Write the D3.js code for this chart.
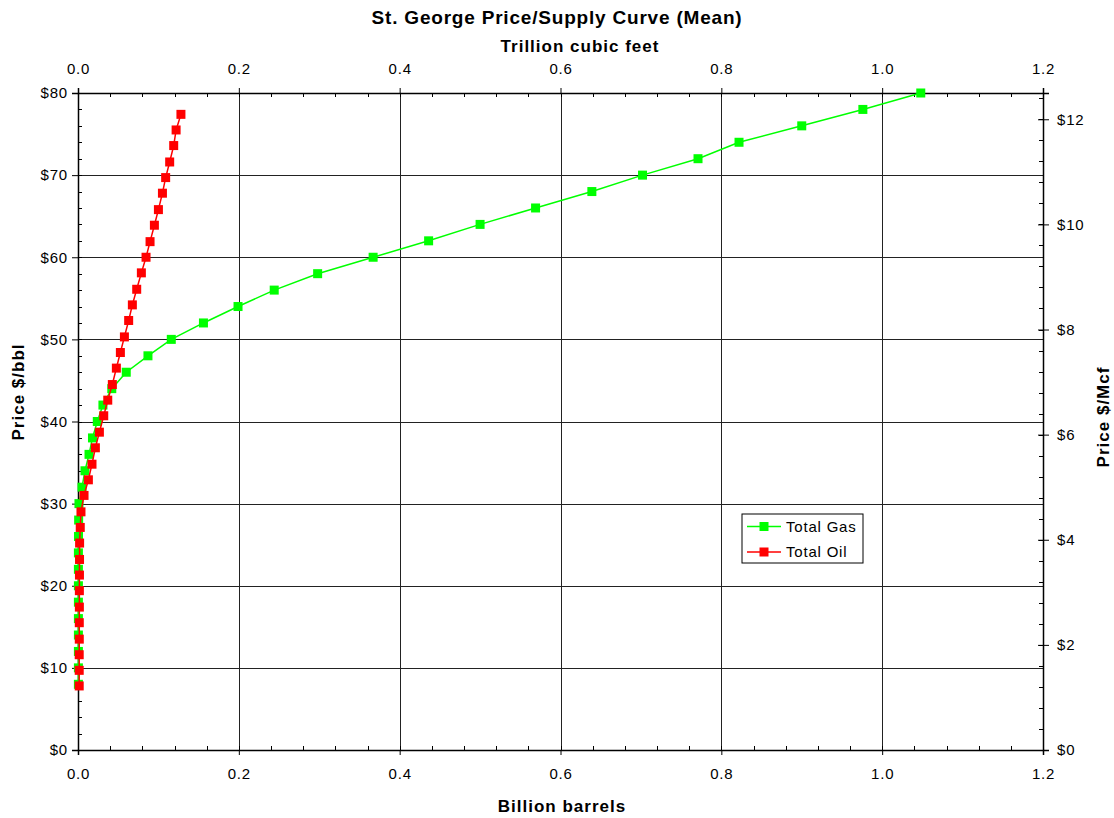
<!DOCTYPE html>
<html>
<head>
<meta charset="utf-8">
<script src="https://cdn.jsdelivr.net/npm/d3@7"></script>
<style>
body { margin: 0; background: #fff; }
svg { font-family: "Liberation Sans", Arial, sans-serif; }
</style>
</head>
<body>
<svg id="chart" width="1114" height="818"></svg>
<script>
// Gas series: price ($/bbl equivalent, left axis) vs Trillion cubic feet (top axis)
const gasPrice = [8,10,12,14,16,18,20,22,24,26,28,30,32,34,36,38,40,42,44,46,48,50,52,54,56,58,60,62,64,66,68,70,72,74,76,78,80];
const gasTcf = [0.0005,0.0005,0.0005,0.0005,0.0005,0.0005,0.0005,0.0005,0.0005,0.0006,0.0008,0.0012,0.005,0.0087,0.0137,0.018,0.024,0.031,0.042,0.060,0.087,0.116,0.156,0.199,0.244,0.298,0.367,0.436,0.500,0.569,0.639,0.702,0.771,0.822,0.900,0.976,1.048];
// Oil series: price ($/bbl, left axis) vs Billion barrels (bottom axis)
const oilPrice = [7.8,9.7,11.6,13.5,15.5,17.4,19.4,21.3,23.2,25.2,27.1,29.0,31.0,32.9,34.8,36.8,38.7,40.7,42.6,44.5,46.5,48.4,50.3,52.3,54.2,56.1,58.1,60.0,61.9,63.9,65.8,67.8,69.7,71.6,73.6,75.5,77.4];
const oilBbl = [0.0015,0.0015,0.0015,0.0016,0.0016,0.0017,0.0017,0.0018,0.0019,0.0020,0.0028,0.0037,0.0075,0.0129,0.0174,0.0216,0.0266,0.032,0.037,0.0427,0.0477,0.0527,0.0577,0.063,0.0676,0.073,0.0788,0.0846,0.0896,0.095,0.100,0.105,0.109,0.114,0.119,0.122,0.128];

const xTicks = [0,0.2,0.4,0.6,0.8,1.0,1.2];
const yLeftTicks = [0,10,20,30,40,50,60,70,80];
const yRightTicks = [0,2,4,6,8,10,12];
const titleText = "St. George Price/Supply Curve (Mean)";
const topTitle = "Trillion cubic feet";
const bottomTitle = "Billion barrels";
const leftTitle = "Price $/bbl";
const rightTitle = "Price $/Mcf";
const seriesNames = ["Total Gas", "Total Oil"];

const L = 78, R = 1043, T = 93, B = 750;
const svg = d3.select("#chart");

const x = d3.scaleLinear().domain([0, 1.2]).range([L, R]);
const yL = d3.scaleLinear().domain([0, 80]).range([B, T]);
const yR = d3.scaleLinear().domain([0, 12.5]).range([B, T]);

// Gridlines
const grid = svg.append("g").attr("stroke", "#222").attr("stroke-width", 1);
xTicks.slice(1, -1).forEach(v => {
  grid.append("line").attr("x1", Math.round(x(v)) + 0.5).attr("x2", Math.round(x(v)) + 0.5).attr("y1", T).attr("y2", B);
});
yLeftTicks.slice(1, -1).forEach(v => {
  grid.append("line").attr("y1", Math.round(yL(v)) + 0.5).attr("y2", Math.round(yL(v)) + 0.5).attr("x1", L).attr("x2", R);
});

// Minor ticks helper
function minorTicks(axis, scale, step, max, pos, inward) {
  const g = svg.append("g").attr("stroke", "#000").attr("stroke-width", 1);
  for (let v = 0; v <= max + 1e-9; v += step) {
    const p = Math.round(scale(v)) + 0.5;
    if (axis === "x") g.append("line").attr("x1", p).attr("x2", p).attr("y1", pos).attr("y2", pos + inward);
    else g.append("line").attr("y1", p).attr("y2", p).attr("x1", pos).attr("x2", pos + inward);
  }
}
minorTicks("x", x, 0.04, 1.2, B, -4);
minorTicks("x", x, 0.04, 1.2, T, 4);
minorTicks("y", yL, 2, 80, L, 4);
minorTicks("y", yR, 0.4, 12.5, R, -4);

// Axes
const fmtX = d3.format(".1f");
const axTop = svg.append("g").attr("transform", `translate(0,${T})`)
  .call(d3.axisTop(x).tickValues(xTicks).tickFormat(fmtX).tickSize(5).tickPadding(14));
const axBottom = svg.append("g").attr("transform", `translate(0,${B})`)
  .call(d3.axisBottom(x).tickValues(xTicks).tickFormat(fmtX).tickSize(5).tickPadding(13));
const axLeft = svg.append("g").attr("transform", `translate(${L},0)`)
  .call(d3.axisLeft(yL).tickValues(yLeftTicks).tickFormat(d => "$" + d).tickSize(6).tickPadding(4));
const axRight = svg.append("g").attr("transform", `translate(${R},0)`)
  .call(d3.axisRight(yR).tickValues(yRightTicks).tickFormat(d => "$" + d).tickSize(6).tickPadding(8));
axRight.selectAll(".tick line").attr("x1", -5);
[axTop, axBottom, axLeft, axRight].forEach(a => {
  a.selectAll("text").attr("font-size", 15).attr("letter-spacing", 0.8).attr("fill", "#000")
    .attr("font-family", "Liberation Sans, Arial, sans-serif");
  a.select(".domain").attr("stroke", "#000").attr("stroke-width", 1.5);
  a.selectAll(".tick line").attr("stroke", "#000");
});

// Line series
const gasData = gasPrice.map((p, i) => ({x: gasTcf[i], y: p}));
const oilData = oilPrice.map((p, i) => ({x: oilBbl[i], y: p}));
const line = d3.line().x(d => x(d.x)).y(d => yL(d.y));
const ms = 9;

function drawSeries(data, color) {
  svg.append("path").datum(data).attr("fill", "none").attr("stroke", color).attr("stroke-width", 1.5).attr("d", line);
  svg.append("g").selectAll("rect").data(data).join("rect")
    .attr("x", d => x(d.x) - ms / 2).attr("y", d => yL(d.y) - ms / 2)
    .attr("width", ms).attr("height", ms).attr("fill", color);
}
drawSeries(gasData, "#00ff00");
drawSeries(oilData, "#ff0000");

// Titles
svg.append("text").attr("x", 557).attr("y", 24).attr("text-anchor", "middle")
  .attr("font-size", 19).attr("letter-spacing", 0.8).attr("font-weight", "bold").text(titleText);
svg.append("text").attr("x", 580).attr("y", 52).attr("text-anchor", "middle")
  .attr("font-size", 17).attr("letter-spacing", 1).attr("font-weight", "bold").text(topTitle);
svg.append("text").attr("x", 562).attr("y", 812).attr("text-anchor", "middle")
  .attr("font-size", 17).attr("letter-spacing", 1).attr("font-weight", "bold").text(bottomTitle);
svg.append("text").attr("transform", "translate(24,392) rotate(-90)").attr("text-anchor", "middle")
  .attr("font-size", 17).attr("letter-spacing", 1).attr("font-weight", "bold").text(leftTitle);
svg.append("text").attr("transform", "translate(1109,417) rotate(-90)").attr("text-anchor", "middle")
  .attr("font-size", 17).attr("letter-spacing", 1).attr("font-weight", "bold").text(rightTitle);

// Legend
const lg = svg.append("g").attr("transform", "translate(742,514)");
lg.append("rect").attr("width", 121).attr("height", 49).attr("fill", "#fff").attr("stroke", "#000").attr("stroke-width", 1);
const colors = ["#00ff00", "#ff0000"];
seriesNames.forEach((name, i) => {
  const yy = 12.5 + i * 25.5;
  lg.append("line").attr("x1", 5).attr("x2", 39).attr("y1", yy).attr("y2", yy).attr("stroke", colors[i]).attr("stroke-width", 1.5);
  lg.append("rect").attr("x", 22 - ms / 2).attr("y", yy - ms / 2).attr("width", ms).attr("height", ms).attr("fill", colors[i]);
  lg.append("text").attr("x", 44).attr("y", yy + 5).attr("font-size", 15).attr("letter-spacing", 0.8).text(name);
});
</script>
</body>
</html>
